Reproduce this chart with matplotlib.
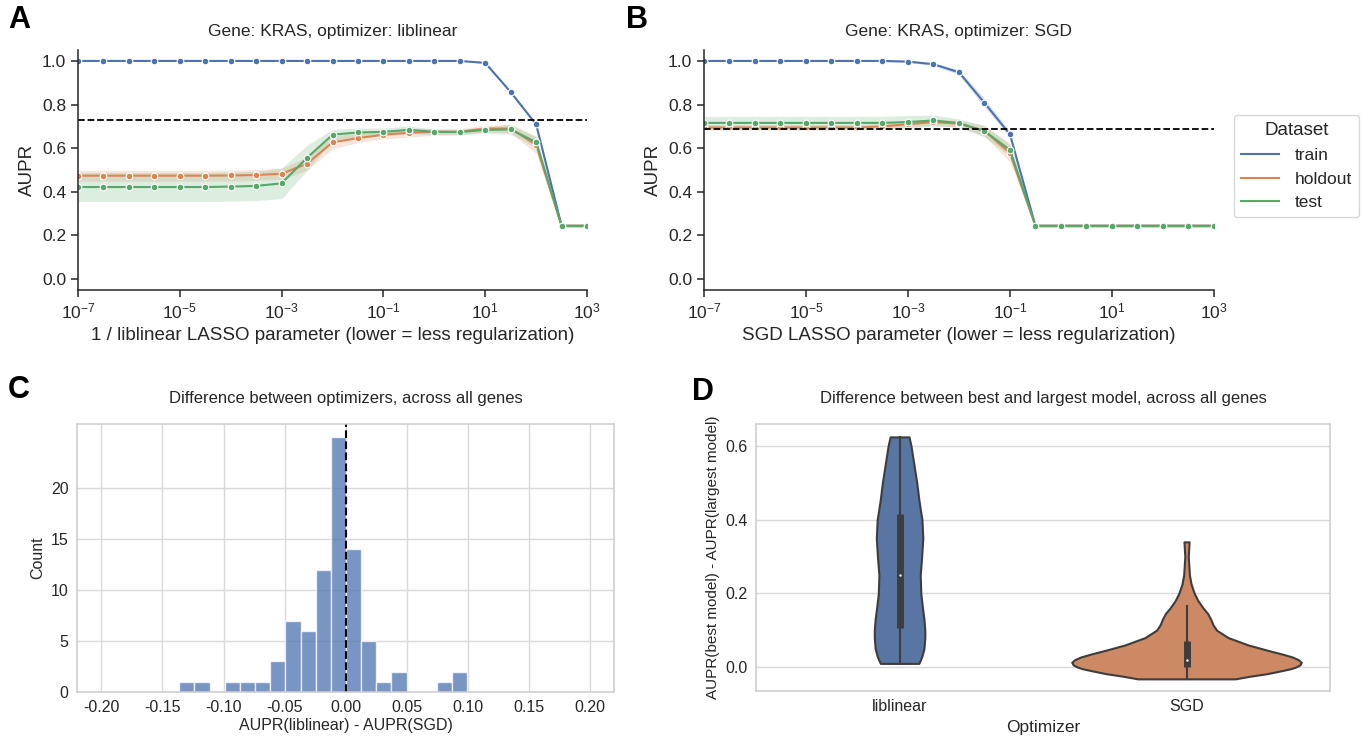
import numpy as np
import matplotlib
matplotlib.use("Agg")
import matplotlib.pyplot as plt
from matplotlib.lines import Line2D
from matplotlib.ticker import FixedLocator, NullLocator, FormatStrFormatter

plt.rcParams["font.family"] = ["Liberation Sans", "DejaVu Sans"]
plt.rcParams["text.color"] = ".15"
plt.rcParams["axes.labelcolor"] = ".15"
plt.rcParams["xtick.color"] = ".15"
plt.rcParams["ytick.color"] = ".15"

BLUE = "#4C72B0"
ORANGE = "#DD8452"
GREEN = "#55A868"

# regularization grid (same for both optimizers)
lasso_params = [1e-7, 3.162e-7, 1e-6, 3.162e-6, 1e-5, 3.162e-5, 1e-4, 3.162e-4,
                1e-3, 3.162e-3, 1e-2, 3.162e-2, 1e-1, 3.162e-1, 1e0, 3.162e0,
                1e1, 3.162e1, 1e2, 3.162e2, 1e3]

# panel A: liblinear
train_A = [1.0, 1.0, 1.0, 1.0, 1.0, 1.0, 1.0, 1.0, 1.0, 1.0, 1.0, 1.0, 1.0, 1.0,
           1.0, 1.0, 0.991, 0.857, 0.709, 0.244, 0.244]
holdout_A = [0.474, 0.474, 0.474, 0.474, 0.474, 0.474, 0.475, 0.477, 0.483, 0.529,
             0.627, 0.646, 0.662, 0.671, 0.675, 0.675, 0.690, 0.690, 0.615, 0.244, 0.244]
test_A = [0.422, 0.422, 0.422, 0.422, 0.422, 0.422, 0.424, 0.427, 0.439, 0.556,
          0.662, 0.672, 0.675, 0.684, 0.675, 0.674, 0.684, 0.686, 0.627, 0.244, 0.244]
train_A_err = [0, 0, 0, 0, 0, 0, 0, 0, 0, 0, 0, 0, 0, 0, 0, 0.002, 0.004, 0.006,
               0.006, 0.002, 0.002]
holdout_A_err = [0.025, 0.025, 0.025, 0.025, 0.025, 0.025, 0.025, 0.025, 0.025, 0.03,
                 0.03, 0.02, 0.02, 0.02, 0.015, 0.015, 0.015, 0.02, 0.04, 0.008, 0.008]
test_A_err = [0.067, 0.067, 0.067, 0.067, 0.067, 0.067, 0.067, 0.067, 0.07, 0.058,
              0.025, 0.02, 0.018, 0.018, 0.012, 0.012, 0.015, 0.022, 0.025, 0.008, 0.008]
baseline_A = 0.728

# panel B: SGD
train_B = [1.0, 1.0, 1.0, 1.0, 1.0, 1.0, 1.0, 1.0, 0.997, 0.985, 0.948, 0.808, 0.663,
           0.244, 0.244, 0.244, 0.244, 0.244, 0.244, 0.244, 0.244]
holdout_B = [0.695, 0.695, 0.695, 0.695, 0.695, 0.695, 0.695, 0.70, 0.71, 0.72, 0.712,
             0.68, 0.577, 0.244, 0.244, 0.244, 0.244, 0.244, 0.244, 0.244, 0.244]
test_B = [0.716, 0.716, 0.716, 0.716, 0.716, 0.716, 0.716, 0.716, 0.72, 0.727, 0.715,
          0.678, 0.592, 0.244, 0.244, 0.244, 0.244, 0.244, 0.244, 0.244, 0.244]
train_B_err = [0.003, 0.003, 0.003, 0.003, 0.003, 0.003, 0.003, 0.003, 0.004, 0.006,
               0.012, 0.02, 0.012, 0.002, 0.002, 0.002, 0.002, 0.002, 0.002, 0.002, 0.002]
holdout_B_err = [0.012, 0.012, 0.012, 0.012, 0.012, 0.012, 0.012, 0.012, 0.012, 0.015,
                 0.015, 0.025, 0.04, 0.008, 0.008, 0.008, 0.008, 0.008, 0.008, 0.008, 0.008]
test_B_err = [0.03, 0.03, 0.03, 0.03, 0.03, 0.03, 0.03, 0.03, 0.03, 0.025, 0.02, 0.025,
              0.03, 0.008, 0.008, 0.008, 0.008, 0.008, 0.008, 0.008, 0.008]
baseline_B = 0.687

# panel C: histogram of AUPR(liblinear) - AUPR(SGD)
hist_left = -0.1362
hist_right = 0.0996
hist_counts = [1, 1, 0, 1, 1, 1, 3, 7, 6, 12, 25, 14, 5, 1, 2, 0, 0, 1, 2]

# panel D: violin outlines (value, half-width in category units) + box stats
optimizers = ["liblinear", "SGD"]
lib_y = [0.01, 0.02, 0.03, 0.05, 0.08, 0.10, 0.13, 0.16, 0.20, 0.25, 0.30, 0.35,
         0.40, 0.45, 0.50, 0.55, 0.60, 0.625]
lib_w = [0.067, 0.073, 0.078, 0.085, 0.088, 0.088, 0.085, 0.080, 0.074, 0.072, 0.077,
         0.081, 0.078, 0.068, 0.060, 0.050, 0.040, 0.033]
sgd_y = [-0.032, -0.025, -0.018, -0.01, -0.004, 0.0, 0.006, 0.013, 0.02, 0.027, 0.035,
         0.045, 0.06, 0.08, 0.10, 0.115, 0.13, 0.145, 0.16, 0.18, 0.20, 0.225, 0.25,
         0.30, 0.34]
sgd_w = [0.17, 0.22, 0.28, 0.33, 0.365, 0.38, 0.395, 0.40, 0.39, 0.37, 0.335, 0.285,
         0.215, 0.145, 0.105, 0.092, 0.084, 0.074, 0.058, 0.040, 0.027, 0.016, 0.010,
         0.006, 0.009]
whisker_lo = [0.01, -0.032]
whisker_hi = [0.625, 0.165]
box_q1 = [0.105, 0.0]
box_q3 = [0.415, 0.07]
medians = [0.25, 0.02]
violin_colors = ["#5975a4", "#cc8963"]


def draw_curve_panel(ax, series, baseline, title, xlabel):
    for vals, err, color in series:
        vals = np.array(vals)
        err = np.array(err)
        ax.fill_between(lasso_params, vals - err, vals + err, color=color,
                        alpha=0.2, linewidth=0)
        ax.plot(lasso_params, vals, color=color, lw=1.5, marker="o", ms=4.8,
                mec="white", mew=0.8)
    ax.axhline(baseline, color="black", ls="--", lw=1.3)
    ax.set_xscale("log")
    ax.set_xlim(1e-7, 1e3)
    ax.set_ylim(-0.05, 1.05)
    ax.xaxis.set_major_locator(FixedLocator([1e-7, 1e-5, 1e-3, 1e-1, 1e1, 1e3]))
    ax.xaxis.set_minor_locator(NullLocator())
    ax.set_yticks([0.0, 0.2, 0.4, 0.6, 0.8, 1.0])
    ax.tick_params(labelsize=12.5, length=5, width=1.1)
    for s in ["top", "right"]:
        ax.spines[s].set_visible(False)
    for s in ["left", "bottom"]:
        ax.spines[s].set_linewidth(1.1)
        ax.spines[s].set_color(".15")
    ax.set_title(title, fontsize=12.5, pad=10)
    ax.set_xlabel(xlabel, fontsize=13.5)
    ax.set_ylabel("AUPR", fontsize=13.5)


def style_grid_axes(ax):
    ax.set_axisbelow(True)
    for s in ax.spines.values():
        s.set_color(".8")
        s.set_linewidth(1.1)
    ax.tick_params(length=0, labelsize=11.5, pad=6)


fig = plt.figure(figsize=(13.64, 7.40), dpi=100)

axA = fig.add_axes([0.0572, 0.6081, 0.3732, 0.3243])
draw_curve_panel(axA, [(train_A, train_A_err, BLUE), (holdout_A, holdout_A_err, ORANGE),
                       (test_A, test_A_err, GREEN)],
                 baseline_A, "Gene: KRAS, optimizer: liblinear",
                 "1 / liblinear LASSO parameter (lower = less regularization)")

axB = fig.add_axes([0.5161, 0.6081, 0.3739, 0.3243])
draw_curve_panel(axB, [(train_B, train_B_err, BLUE), (holdout_B, holdout_B_err, ORANGE),
                       (test_B, test_B_err, GREEN)],
                 baseline_B, "Gene: KRAS, optimizer: SGD",
                 "SGD LASSO parameter (lower = less regularization)")
handles = [Line2D([], [], color=c, lw=1.5) for c in [BLUE, ORANGE, GREEN]]
axB.legend(handles, ["train", "holdout", "test"], title="Dataset", fontsize=12.5,
           title_fontsize=13.5, loc="upper left", bbox_to_anchor=(1234 / 1364, 1 - 115 / 740),
           bbox_transform=fig.transFigure, borderaxespad=0, frameon=True,
           edgecolor=".8", handlelength=2.2, handletextpad=0.9, borderpad=0.4,
           labelspacing=0.5)

# panel C
axC = fig.add_axes([0.0565, 0.0649, 0.3937, 0.3622])
style_grid_axes(axC)
edges = np.linspace(hist_left, hist_right, len(hist_counts) + 1)
axC.bar(edges[:-1], hist_counts, width=np.diff(edges), align="edge",
        color=BLUE, alpha=0.75, edgecolor="white", linewidth=1)
axC.axvline(0, color="black", ls="--", lw=1.5)
axC.set_xlim(-0.22, 0.22)
axC.set_ylim(0, 26.3)
axC.set_xticks([-0.2, -0.15, -0.1, -0.05, 0.0, 0.05, 0.1, 0.15, 0.2])
axC.set_yticks([0, 5, 10, 15, 20])
axC.xaxis.set_major_formatter(FormatStrFormatter("%.2f"))
axC.grid(True, color=".85", lw=1)
axC.set_title("Difference between optimizers, across all genes", fontsize=12, pad=15)
axC.set_xlabel("AUPR(liblinear) - AUPR(SGD)", fontsize=11.5, labelpad=2)
axC.set_ylabel("Count", fontsize=11.5)

# panel D
axD = fig.add_axes([0.5543, 0.0662, 0.4208, 0.3608])
style_grid_axes(axD)
axD.yaxis.grid(True, color=".85", lw=1)
outlines = [(lib_y, lib_w), (sgd_y, sgd_w)]
for i, (ys, ws) in enumerate(outlines):
    ys = np.array(ys)
    ws = np.array(ws)
    axD.fill_betweenx(ys, i - ws, i + ws, facecolor=violin_colors[i],
                      edgecolor="#3d3d3d", linewidth=1.5, zorder=2)
    axD.plot([i, i], [whisker_lo[i], whisker_hi[i]], color="#3d3d3d", lw=1.5, zorder=3)
    axD.plot([i, i], [box_q1[i], box_q3[i]], color="#3d3d3d", lw=5,
             solid_capstyle="butt", zorder=3)
    axD.scatter([i], [medians[i]], s=3, color="white", linewidths=0, zorder=4)
axD.set_xlim(-0.5, 1.5)
axD.set_ylim(-0.065, 0.66)
axD.set_xticks([0, 1])
axD.set_xticklabels(optimizers)
axD.set_yticks([0.0, 0.2, 0.4, 0.6])
axD.set_title("Difference between best and largest model, across all genes",
              fontsize=12, pad=15)
axD.set_xlabel("Optimizer", fontsize=12.5, labelpad=4)
axD.set_ylabel("AUPR(best model) - AUPR(largest model)", fontsize=11)

for label, x, y in [("A", 8, 20), ("B", 626, 20), ("C", 8, 390), ("D", 692, 392)]:
    fig.text(x / 1364, 1 - y / 740, label, fontsize=22, fontweight="bold",
             color="black", va="center", ha="left")

fig.savefig("out.png", dpi=100)
